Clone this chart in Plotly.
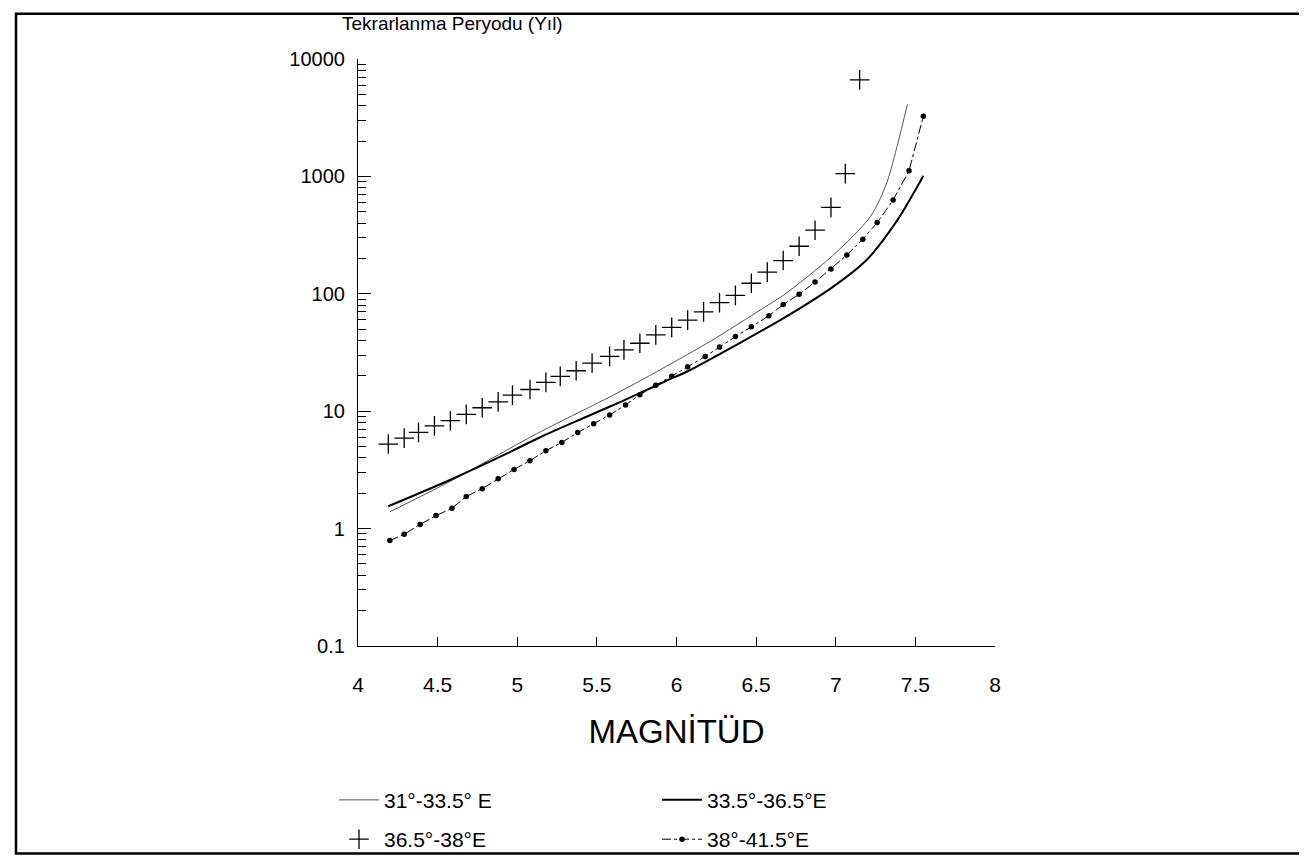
import plotly.graph_objects as go

# ---- data ----
# 31°-33.5°E (thin line)
m_a = [4.20, 4.57, 5.12, 5.55, 5.74, 5.99, 6.21, 6.54, 6.67, 6.98, 7.22, 7.32, 7.39, 7.45]
t_a = [1.39, 2.49, 6.4, 12.6, 17.2, 26.5, 39.2, 74.8, 97, 211, 460, 880, 1915, 4110]

# 33.5°-36.5°E (thick solid line)
m_b = [4.19, 4.57, 4.93, 5.14, 5.42, 5.66, 5.93, 6.07, 6.41, 6.67, 6.98, 7.20, 7.39, 7.49, 7.55]
t_b = [1.55, 2.57, 4.33, 5.97, 8.8, 12.2, 18.0, 21.9, 39.0, 61.7, 114, 198, 430, 724, 1014]

# 36.5°-38°E (plus markers)
m_c = [4.19, 4.29, 4.38, 4.48, 4.58, 4.68, 4.78, 4.88, 4.97, 5.08, 5.18, 5.27, 5.37, 5.47, 5.58,
       5.67, 5.77, 5.87, 5.97, 6.07, 6.17, 6.27, 6.37, 6.47, 6.57, 6.67, 6.77, 6.87, 6.97, 7.06, 7.15]
t_c = [5.25, 5.9, 6.6, 7.5, 8.3, 9.4, 10.7, 12.0, 13.7, 15.3, 17.6, 19.8, 22.1, 25.7, 29.3,
       33.3, 37.9, 44.7, 51.8, 59.7, 70.2, 84, 97, 123, 153, 192, 254, 348, 545, 1055, 6650]

# 38°-41.5°E (dots with dash-dot line)
m_d = [4.20, 4.29, 4.39, 4.49, 4.59, 4.68, 4.78, 4.88, 4.98, 5.08, 5.18, 5.28, 5.38, 5.48, 5.58,
       5.68, 5.77, 5.87, 5.97, 6.07, 6.18, 6.27, 6.37, 6.47, 6.58, 6.67, 6.77, 6.87, 6.97, 7.07,
       7.17, 7.26, 7.36, 7.46, 7.55]
t_d = [0.79, 0.895, 1.086, 1.29, 1.49, 1.88, 2.19, 2.66, 3.19, 3.79, 4.61, 5.42, 6.58, 7.83, 9.28,
       11.3, 13.8, 16.6, 19.8, 23.9, 29.2, 35.3, 43.2, 52.3, 65, 81, 99, 126, 163, 214,
       292, 404, 628, 1117, 3260]

x_ticks = [4, 4.5, 5, 5.5, 6, 6.5, 7, 7.5, 8]
x_tick_text = ["4", "4.5", "5", "5.5", "6", "6.5", "7", "7.5", "8"]
y_ticks = [0.1, 1, 10, 100, 1000, 10000]
y_tick_text = ["0.1", "1", "10", "100", "1000", "10000"]

names = ["31°-33.5° E", "33.5°-36.5°E", "36.5°-38°E", "38°-41.5°E"]

FONT = "Liberation Sans, Arial, sans-serif"

fig = go.Figure()
fig.add_trace(go.Scatter(x=m_a, y=t_a, mode="lines", name=names[0],
                         line=dict(color="#555555", width=1, shape="spline", smoothing=0.8),
                         legend="legend"))
fig.add_trace(go.Scatter(x=m_b, y=t_b, mode="lines", name=names[1],
                         line=dict(color="black", width=2, shape="spline", smoothing=0.8),
                         legend="legend"))
fig.add_trace(go.Scatter(x=m_c, y=t_c, mode="markers", name=names[2],
                         marker=dict(symbol="cross-thin", size=14, line=dict(color="black", width=1.3)),
                         legend="legend2"))
fig.add_trace(go.Scatter(x=m_d, y=t_d, mode="lines+markers", name=names[3],
                         line=dict(color="black", width=1, dash="dashdot"),
                         marker=dict(symbol="circle", size=5.5, color="black"), legend="legend2"))

W, H = 1307, 864
L, R, T, B = 350, 320, 51, 216
pw, ph = W - L - R, H - T - B

def px2x(px):
    return (px - L) / pw

def py2y(py):
    return (H - B - py) / ph

fig.update_layout(
    width=W, height=H,
    margin=dict(l=L, r=R, t=T, b=B),
    paper_bgcolor="white", plot_bgcolor="white",
    font=dict(family=FONT, color="black", size=19),
    xaxis=dict(range=[4, 8], tickvals=x_ticks, ticktext=x_tick_text,
               ticks="inside", ticklen=9, tickwidth=1.2, tickcolor="black",
               showline=True, linecolor="black", linewidth=1.2, mirror=False,
               showgrid=False, zeroline=False, ticklabelstandoff=20,
               tickfont=dict(size=21),
               title=dict(text="MAGNİTÜD", font=dict(size=33), standoff=24)),
    yaxis=dict(type="log", range=[-1, 4], tickvals=y_ticks, ticktext=y_tick_text,
               ticks="inside", ticklen=13, tickwidth=1.2, tickcolor="black",
               showline=True, linecolor="black", linewidth=1.2, mirror=False,
               showgrid=False, zeroline=False, ticklabelstandoff=8,
               tickfont=dict(size=20),
               minor=dict(ticks="inside", ticklen=8, tickwidth=1, tickcolor="black",
                          dtick="D1", showgrid=False)),
    legend=dict(orientation="h", x=px2x(326), y=py2y(784), xanchor="left", yanchor="top",
                entrywidth=268, entrywidthmode="pixels", font=dict(size=21),
                bgcolor="rgba(0,0,0,0)", itemwidth=40),
    legend2=dict(orientation="h", x=px2x(326), y=py2y(824), xanchor="left", yanchor="top",
                 entrywidth=268, entrywidthmode="pixels", font=dict(size=21),
                 bgcolor="rgba(0,0,0,0)", itemwidth=40),
    showlegend=True,
)

fig.add_annotation(text="Tekrarlanma Peryodu (Yıl)", xref="paper", yref="paper",
                   x=px2x(332), y=py2y(15), xanchor="left", yanchor="middle",
                   showarrow=False, font=dict(size=19, family="Liberation Sans Narrow, " + FONT))

# outer frame
fig.add_shape(type="rect", xref="paper", yref="paper",
              x0=px2x(8), x1=px2x(1300), y0=py2y(859), y1=py2y(5),
              line=dict(color="black", width=2.5), fillcolor="rgba(0,0,0,0)", layer="below")

fig.write_html("out.html")
